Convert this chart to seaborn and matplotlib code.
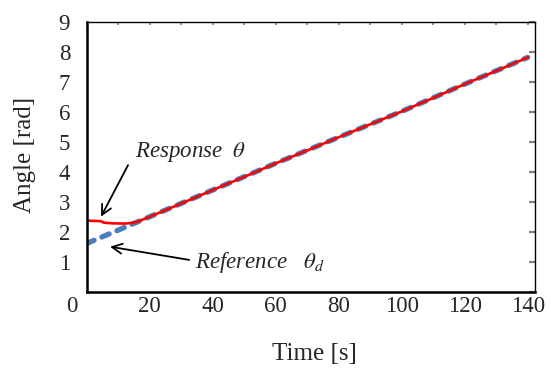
import matplotlib
matplotlib.use('Agg')
import matplotlib.pyplot as plt
import matplotlib.transforms as mtransforms
from matplotlib.ticker import MultipleLocator
import seaborn as sns
import pandas as pd

# values
ref_time = [0, 20, 40, 60, 80, 100, 120, 140]
ref_angle = [1.62, 2.51, 3.40, 4.29, 5.16, 6.02, 6.93, 7.82]

resp_time = [0, 4.5, 5.5, 8, 12, 14, 16, 20, 30, 40, 50, 60, 70, 80, 90, 100, 110, 120, 130, 140]
resp_angle = [2.38, 2.36, 2.31, 2.29, 2.28, 2.30, 2.34, 2.51, 2.95, 3.40, 3.84, 4.29, 4.72,
              5.16, 5.59, 6.02, 6.47, 6.93, 7.37, 7.82]

x_ticks = [0, 20, 40, 60, 80, 100, 120, 140]
y_ticks = [0, 1, 2, 3, 4, 5, 6, 7, 8, 9]

ref_df = pd.DataFrame({'time': ref_time, 'angle': ref_angle})
resp_df = pd.DataFrame({'time': resp_time, 'angle': resp_angle})

sns.set_style('white')
plt.rcParams['font.family'] = ['Liberation Serif', 'DejaVu Serif']
plt.rcParams['mathtext.fontset'] = 'stix'

fig = plt.figure(figsize=(5.51, 3.72), dpi=100)
ax = fig.add_axes([86.8 / 551, 1 - 292 / 372, (535 - 86.8) / 551, 270 / 372])

sns.lineplot(data=ref_df, x='time', y='angle', color='#4a7ebb', linewidth=3.8, ax=ax)
ref_line = ax.lines[-1]
ref_line.set_dashes((1.5, 1.6))
ref_line.set_dash_capstyle('round')
sns.lineplot(data=resp_df, x='time', y='angle', color='#ff0000', linewidth=1.9, ax=ax)

ax.set_xlim(0, 142.3)
ax.set_ylim(0, 9)
ax.set_xticks(x_ticks)
ax.set_yticks(y_ticks)
ax.set_yticklabels([''] + [str(v) for v in y_ticks[1:]])
ax.xaxis.set_minor_locator(MultipleLocator(10))

ax.tick_params(axis='both', which='both', direction='in', color='#808080', labelsize=16.5)
ax.tick_params(axis='y', which='major', length=4.5, width=1.6, pad=12, right=True)
ax.tick_params(axis='x', which='both', length=2.5, width=1.2, pad=3, top=True)

# shift the origin "0" label to the left like in the reference
for lbl in ax.get_xticklabels()[:1]:
    lbl.set_transform(lbl.get_transform() + mtransforms.ScaledTranslation(-15 / 100, 0, fig.dpi_scale_trans))

for side in ['left', 'bottom']:
    ax.spines[side].set_linewidth(1.8)
    ax.spines[side].set_color('black')
for side in ['top', 'right']:
    ax.spines[side].set_linewidth(1.0)
    ax.spines[side].set_color('black')

ax.set_xlabel('Time [s]', fontsize=18)
ax.set_ylabel('Angle [rad]', fontsize=18)
ax.xaxis.set_label_coords(0.509, -0.19)
ax.yaxis.set_label_coords(-0.113, 0.507)

arrow_kw = dict(arrowstyle='->', color='black', lw=1.3, shrinkA=0, shrinkB=0, mutation_scale=18)
ax.text(15.3, 4.67, 'Response  $\\theta$', fontsize=16.5, style='italic', va='center', ha='left')
ax.annotate('', xy=(4.5, 2.51), xytext=(13.1, 4.23), arrowprops=arrow_kw)
ax.text(34.4, 0.97, 'Reference   $\\theta_d$', fontsize=16.5, style='italic', va='center', ha='left')
ax.annotate('', xy=(7.4, 1.51), xytext=(32.5, 1.07), arrowprops=arrow_kw)

fig.savefig('out.png', dpi=100)
